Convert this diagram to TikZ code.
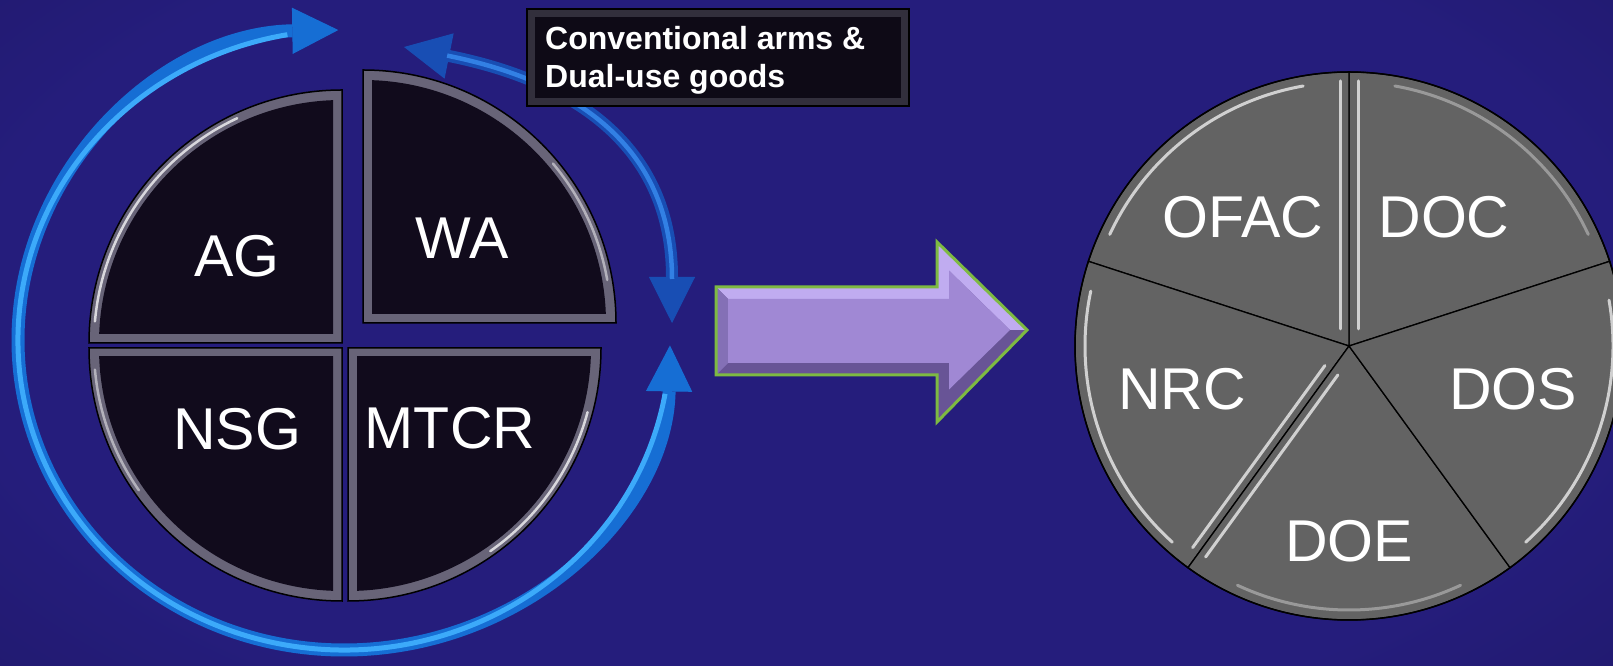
\documentclass[tikz,border=0pt]{standalone}
\usepackage{fontspec}
\setmainfont{Liberation Sans}
\usetikzlibrary{arrows.meta}
\definecolor{bgin}{RGB}{37,29,124}
\definecolor{bgout}{RGB}{15,11,52}
\definecolor{ringA}{RGB}{22,110,212}
\definecolor{ringAl}{RGB}{60,170,250}
\definecolor{ringB}{RGB}{24,78,180}
\definecolor{ringBl}{RGB}{50,128,228}
\definecolor{qband}{RGB}{104,100,120}
\definecolor{qfill}{RGB}{17,11,28}
\definecolor{pieg}{RGB}{99,99,99}
\definecolor{purmain}{RGB}{160,136,212}
\definecolor{purlight}{RGB}{192,172,240}
\definecolor{purdark}{RGB}{104,84,150}
\definecolor{purmid}{RGB}{132,112,182}
\definecolor{argreen}{RGB}{126,186,66}
\definecolor{boxedge}{RGB}{50,47,60}
\definecolor{boxfill}{RGB}{14,10,22}
\pgfdeclareradialshading{bgshade}{\pgfpoint{0bp}{0bp}}{color(0bp)=(bgin); color(18bp)=(bgin); color(50bp)=(bgout)}
\begin{document}
\begin{tikzpicture}[x=1pt,y=1pt,
  lbl/.style={text=white, font=\fontsize{59}{62}\selectfont, inner sep=0pt},
  quad/.style={fill=qband, draw=black, line width=1.5pt},
  qin/.style={fill=qfill},
  qhi/.style={draw=white, line width=2.5pt, opacity=.75, line cap=round},
  slice/.style={fill=pieg, draw=black, line width=1.3pt},
  phi/.style={draw=white, line width=3pt, opacity=.7, line cap=round},
  ringtips/.style={{Triangle[length=46pt,width=46pt,line width=1pt]}-{Triangle[length=46pt,width=46pt,line width=1pt]}}
]
\useasboundingbox (0,0) rectangle (1613,666);
% background
\begin{scope}
\clip (0,0) rectangle (1613,666);
\shade[shading=bgshade] (-350,-250) rectangle (1950,950);
\end{scope}

% ring arrows
\coordinate (ringc) at (344,326);
\path (ringc) ++(-1:326 and 310) coordinate (a1s);
\path (ringc) ++(-10:326 and 310) coordinate (a1c);
\coordinate (a2s) at (404,619);
\coordinate (a2e) at (672,343);
\draw[ringA, line width=13pt, ringtips] (a1s) arc[start angle=-1,end angle=-269,x radius=326,y radius=310];
\draw[ringAl, line width=5pt] (a1c) arc[start angle=-10,end angle=-260,x radius=326,y radius=310];
\draw[ringB, line width=12pt, ringtips] (a2s) .. controls (584,583) and (672,513) .. (a2e);
\draw[ringBl, line width=4.5pt, shorten <=44pt, shorten >=44pt] (a2s) .. controls (584,583) and (672,513) .. (a2e);

% left pie quadrants
% AG
\coordinate (agc) at (342,323);
\fill[quad] (agc) -- ++(0,253) arc[start angle=90,end angle=180,radius=253] -- cycle;
\begin{scope}\clip (333,332) rectangle (0,666); \fill[qin] (agc) circle[radius=243]; \end{scope}
\draw[qhi] (agc) ++(115:248) arc[start angle=115,end angle=175,radius=248];
% WA
\coordinate (wac) at (363,343);
\fill[quad] (wac) -- ++(253,0) arc[start angle=0,end angle=90,radius=253] -- cycle;
\begin{scope}\clip (372,352) rectangle (700,666); \fill[qin] (wac) circle[radius=243]; \end{scope}
\draw[qhi, opacity=.5] (wac) ++(40:248) arc[start angle=40,end angle=10,radius=248];
% NSG
\coordinate (nsgc) at (342,318);
\fill[quad] (nsgc) -- ++(-253,0) arc[start angle=180,end angle=270,radius=253] -- cycle;
\begin{scope}\clip (333,309) rectangle (0,0); \fill[qin] (nsgc) circle[radius=243]; \end{scope}
\draw[qhi, opacity=.5] (nsgc) ++(185:248) arc[start angle=185,end angle=215,radius=248];
% MTCR
\coordinate (mtc) at (348,318);
\fill[quad] (mtc) -- ++(0,-253) arc[start angle=270,end angle=360,radius=253] -- cycle;
\begin{scope}\clip (357,309) rectangle (700,0); \fill[qin] (mtc) circle[radius=243]; \end{scope}
\draw[qhi] (mtc) ++(-15:248) arc[start angle=-15,end angle=-55,radius=248];

\node[lbl] (ag) at (237,410) {AG};
\node[lbl] (wa) at (462,428) {WA};
\node[lbl] (nsg) at (237,237) {NSG};
\node[lbl] (mtcr) at (450,238) {MTCR};

% label box
\fill[black] (526,559) rectangle (910,658);
\fill[boxedge] (528,561) rectangle (908,656);
\fill[boxfill] (535,568) rectangle (901,649);
\node[anchor=north west, inner sep=0pt, align=left, text=white,
      font=\bfseries\fontsize{32}{38}\selectfont] (conv) at (545,639.5)
      {Conventional arms \&\\Dual-use goods};

% purple arrow
\fill[purdark] (716,379) -- (937,379) -- (937,424) -- (1027,336) -- (937,244) -- (937,291) -- (716,291) -- cycle;
\fill[purlight] (716,379) -- (937,379) -- (937,424) -- (1027,336) -- (1010,336) -- (949,395.5) -- (949,367) -- (728,367) -- cycle;
\fill[purmid] (716,379) -- (728,367) -- (728,303) -- (716,291) -- cycle;
\fill[purmain] (728,367) -- (949,367) -- (949,395.5) -- (1010,336) -- (949,276.5) -- (949,303) -- (728,303) -- cycle;
\draw[argreen, line width=3pt, line join=miter] (716,379) -- (937,379) -- (937,424) -- (1027,336) -- (937,244) -- (937,291) -- (716,291) -- cycle;

% right pie
\coordinate (pc) at (1349,320);
\fill[slice] (pc) -- ++(18:274) arc[start angle=18,end angle=90,radius=274] -- cycle;
\fill[slice] (pc) -- ++(90:274) arc[start angle=90,end angle=162,radius=274] -- cycle;
\fill[slice] (pc) -- ++(162:274) arc[start angle=162,end angle=234,radius=274] -- cycle;
\fill[slice] (pc) -- ++(234:274) arc[start angle=234,end angle=306,radius=274] -- cycle;
\fill[slice] (pc) -- ++(306:274) arc[start angle=306,end angle=378,radius=274] -- cycle;
\draw[black, line width=1.5pt] (pc) circle[radius=274];
% highlights
\draw[phi] (pc) ++(100:264) arc[start angle=100,end angle=155,radius=264];
\draw[phi] (pc) ++(168:264) arc[start angle=168,end angle=228,radius=264];
\draw[phi] (pc) ++(10:264) arc[start angle=10,end angle=-48,radius=264];
\draw[phi, opacity=.35] (pc) ++(25:264) arc[start angle=25,end angle=80,radius=264];
\draw[phi, opacity=.35] (pc) ++(245:264) arc[start angle=245,end angle=295,radius=264];
\draw[phi] (1340,337) -- (1340,585);
\draw[phi] (1358,337) -- (1358,585);
\draw[phi] (pc) ++(-126:30) ++(-36:8) -- ++(-126:225);
\draw[phi] (pc) ++(-126:30) ++(144:8) -- ++(-126:225);

\node[lbl] (ofac) at (1243,449) {OFAC};
\node[lbl] (doc) at (1444,449) {DOC};
\node[lbl] (nrc) at (1182,277) {NRC};
\node[lbl] (dos) at (1513,277) {DOS};
\node[lbl] (doe) at (1349,125) {DOE};
\end{tikzpicture}
\end{document}
